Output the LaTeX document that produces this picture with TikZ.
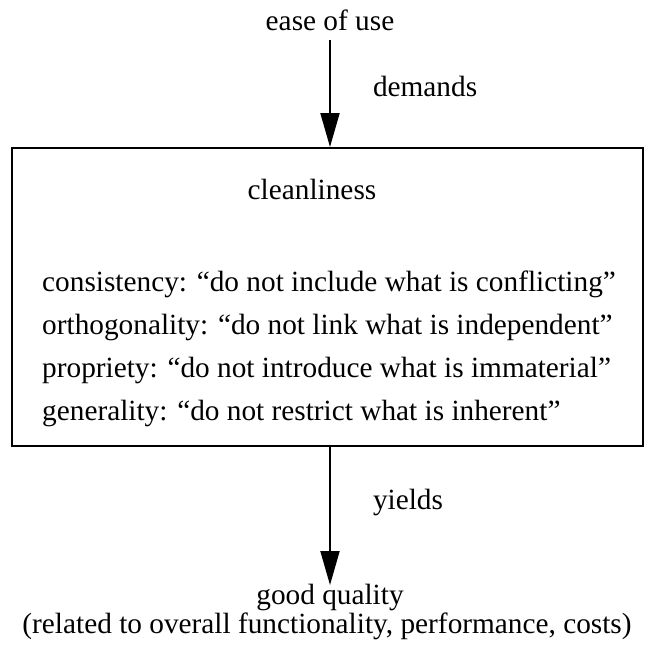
\documentclass[tikz,border=0pt]{standalone}
\usepackage{fontspec}
\setmainfont{Liberation Serif}
\usetikzlibrary{arrows.meta}
\begin{document}
\begin{tikzpicture}[x=1pt,y=-1pt,
  lbl/.style={inner sep=0pt,font=\fontsize{29.3}{34}\selectfont},
  frame/.style={draw,line width=2pt,inner sep=0pt},
  flow/.style={line width=2pt,-{Triangle[length=34pt,width=19pt]}}]
\useasboundingbox (0,0) rectangle (653,646);
% top concept
\node[lbl,anchor=base] (ease) at (330,30) {ease of use};
% central box with its principles
\node[frame,minimum width=631pt,minimum height=298pt] (box) at (327.5,297) {};
\node[lbl,anchor=base] (clean) at (312,199) {cleanliness};
\node[lbl,anchor=base west] (p1) at (42,291) {consistency: “do not include what is conflicting”};
\node[lbl,anchor=base west] (p2) at (42,334) {orthogonality: “do not link what is independent”};
\node[lbl,anchor=base west] (p3) at (42,377) {propriety: “do not introduce what is immaterial”};
\node[lbl,anchor=base west] (p4) at (42,420) {generality: “do not restrict what is inherent”};
% outcome
\node[lbl,anchor=base] (good) at (330,604) {good quality};
\node[lbl,anchor=base] (rel) at (327,633) {(related to overall functionality, performance, costs)};
% connectors
\coordinate (t0) at (330,40);
\draw[flow] (t0) -- (t0 |- box.north) node[lbl,midway,anchor=base west,xshift=42pt,yshift=-3pt] (dem) {demands};
\coordinate (b1) at (330,585);
\draw[flow] (b1 |- box.south) -- (b1) node[lbl,midway,anchor=base west,xshift=42pt,yshift=7pt] (yl) {yields};
\end{tikzpicture}
\end{document}
